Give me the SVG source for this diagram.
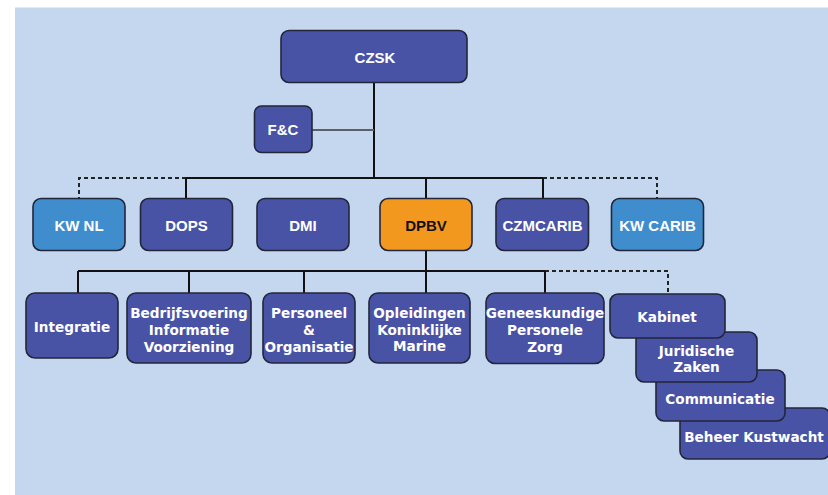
<svg xmlns="http://www.w3.org/2000/svg" width="828" height="495" viewBox="0 0 828 495">
<style>
.n{fill:#4953a5;stroke:#23263a;stroke-width:1.6}
.l{fill:#3f8dcc;stroke:#23263a;stroke-width:1.6}
.o{fill:#f3981f;stroke:#23263a;stroke-width:1.6}
.t{font-family:"Liberation Sans",Arial,sans-serif;font-weight:bold;font-size:15px;fill:#fff;text-anchor:middle;dominant-baseline:central}
.s{font-family:"DejaVu Sans",Verdana,sans-serif;font-weight:bold;font-size:13.6px;fill:#fff;text-anchor:middle;dominant-baseline:central}
.c{stroke:#111;stroke-width:2;fill:none}
.d{stroke:#222;stroke-width:2;fill:none;stroke-dasharray:4 3}
</style>
<rect x="0" y="0" width="828" height="495" fill="#ffffff"/>
<rect x="15" y="7.5" width="813" height="487.5" fill="#c4d7ee"/>
<g id="connectors">
<line class="c" x1="374" y1="82" x2="374" y2="178"/>
<line x1="312" y1="130" x2="374" y2="130" stroke="#5a5f6a" stroke-width="2"/>
<line class="c" x1="186" y1="178" x2="543" y2="178"/>
<path class="d" d="M186 178 H79 V198"/>
<path class="d" d="M543 178 H657 V198"/>
<line class="c" x1="186" y1="178" x2="186" y2="198"/>
<line class="c" x1="426" y1="178" x2="426" y2="198"/>
<line class="c" x1="543" y1="178" x2="543" y2="198"/>
<line class="c" x1="426" y1="251" x2="426" y2="293"/>
<line class="c" x1="78" y1="271" x2="545" y2="271"/>
<path class="d" d="M545 271 H668 V294"/>
<line class="c" x1="78" y1="271" x2="78" y2="293"/>
<line class="c" x1="189" y1="271" x2="189" y2="293"/>
<line class="c" x1="304" y1="271" x2="304" y2="293"/>
<line class="c" x1="545" y1="271" x2="545" y2="293"/>
</g>
<g id="czsk"><rect class="n" x="281" y="30.5" width="186" height="52" rx="8"/><text class="t" x="375" y="57">CZSK</text></g>
<g id="fc"><rect class="n" x="254.5" y="106" width="57.5" height="46.5" rx="7"/><text class="t" x="283" y="129.5">F&amp;C</text></g>
<g id="kwnl"><rect class="l" x="33" y="198.5" width="92" height="52" rx="8"/><text class="t" x="79" y="225">KW NL</text></g>
<g id="dops"><rect class="n" x="140.5" y="198.5" width="92" height="52" rx="8"/><text class="t" x="186.5" y="225">DOPS</text></g>
<g id="dmi"><rect class="n" x="257" y="198.5" width="92" height="52" rx="8"/><text class="t" x="303" y="225">DMI</text></g>
<g id="dpbv"><rect class="o" x="380" y="198.5" width="92" height="52" rx="8"/><text class="t" x="426" y="225" style="fill:#111">DPBV</text></g>
<g id="czmcarib"><rect class="n" x="496" y="198.5" width="92.5" height="52" rx="8"/><text class="t" x="542.5" y="225">CZMCARIB</text></g>
<g id="kwcarib"><rect class="l" x="611.5" y="198.5" width="92" height="52" rx="8"/><text class="t" x="657.5" y="225">KW CARIB</text></g>
<g id="integratie"><rect class="n" x="26" y="293" width="92" height="65" rx="9"/><text class="s" x="72" y="327">Integratie</text></g>
<g id="bedrijfsvoering"><rect class="n" x="127" y="293" width="124" height="70" rx="9"/><text class="s" x="189" y="313">Bedrijfsvoering</text><text class="s" x="189" y="330">Informatie</text><text class="s" x="189" y="346.5">Voorziening</text></g>
<g id="personeel"><rect class="n" x="263" y="293" width="92" height="70" rx="9"/><text class="s" x="309" y="313">Personeel</text><text class="s" x="309" y="330">&amp;</text><text class="s" x="309" y="346.5">Organisatie</text></g>
<g id="opleidingen"><rect class="n" x="369" y="293" width="101" height="70" rx="9"/><text class="s" x="419.5" y="313">Opleidingen</text><text class="s" x="419.5" y="329.5">Koninklijke</text><text class="s" x="419.5" y="346">Marine</text></g>
<g id="geneeskundige"><rect class="n" x="486" y="293" width="118" height="70.5" rx="9"/><text class="s" x="545" y="313">Geneeskundige</text><text class="s" x="545" y="330">Personele</text><text class="s" x="545" y="346.5">Zorg</text></g>
<g id="beheer"><rect class="n" x="680" y="408" width="150" height="51" rx="8"/><text class="s" x="754" y="437">Beheer Kustwacht</text></g>
<g id="communicatie"><rect class="n" x="656" y="370" width="129" height="51" rx="8"/><text class="s" x="720" y="399">Communicatie</text></g>
<g id="juridische"><rect class="n" x="636" y="332" width="121" height="50" rx="8"/><text class="s" x="696.5" y="351">Juridische</text><text class="s" x="696.5" y="366.5">Zaken</text></g>
<g id="kabinet"><rect class="n" x="610" y="294" width="115" height="44" rx="8"/><text class="s" x="667" y="317">Kabinet</text></g>
</svg>
